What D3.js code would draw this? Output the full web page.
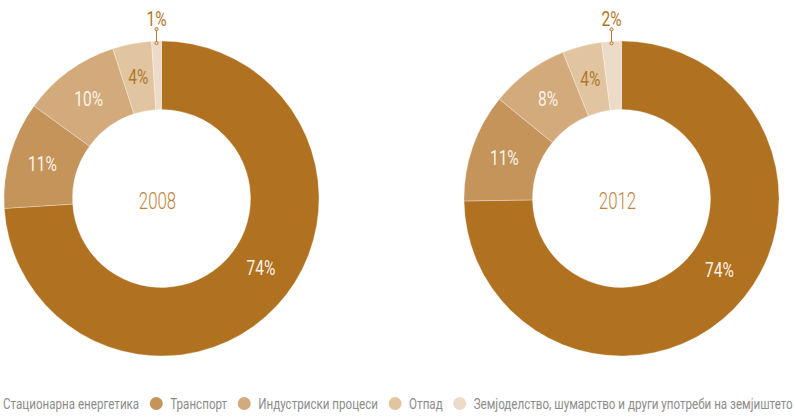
<!DOCTYPE html>
<html><head><meta charset="utf-8">
<script src="https://cdn.jsdelivr.net/npm/d3@7"></script>
<style>
html,body{margin:0;padding:0;background:#fff;}
svg{display:block;}
text{font-family:Roboto,"Noto Sans",sans-serif;}
</style></head>
<body>
<svg id="chart" width="795" height="417"></svg>
<script>
const categories = ["Стационарна енергетика","Транспорт","Индустриски процеси","Отпад","Земјоделство, шумарство и други употреби на земјиштето"];
const years = ["2008","2012"];
const values2008 = [74, 11, 10, 4, 1];
const values2012 = [74, 11, 8, 4, 2];
const colors = ["#b07121","#c4945a","#d2aa7b","#e0c5a0","#ecdcc7"];
const labelColors = ["#faf4ea","#faf4ea","#faf4ea","#b27629","#b27629"];

const svg = d3.select("#chart");
const outerR = 157.5, innerR = 89;
const centers = d3.scalePoint().domain(years).range([161.5, 621.5]);
const cy = 198.5;
const color = d3.scaleOrdinal().domain(categories).range(colors);

const pie = d3.pie().sort(null).value(d => d.v);
const arc = d3.arc().innerRadius(innerR).outerRadius(outerR);
const labelR = 124;
const SX = 0.74;

function sText(parent, x, y, str, size, fill, anchor, sx) {
  const gg = parent.append("g").attr("transform", `translate(${x},${y}) scale(${sx},1)`);
  return gg.append("text").attr("x", 0).attr("y", 0).attr("text-anchor", anchor)
    .attr("font-size", size).attr("fill", fill).text(str);
}

const datasets = [values2008, values2012];
years.forEach((yr, yi) => {
  const data = categories.map((c, i) => ({c, v: datasets[yi][i], i}));
  const g = svg.append("g").attr("transform", `translate(${centers(yr)},${cy})`);
  const arcs = pie(data);
  g.selectAll("path").data(arcs).enter().append("path")
    .attr("d", arc).attr("fill", d => color(d.data.c))
    .attr("stroke", "#fff").attr("stroke-width", 0.6).attr("stroke-opacity", 0.5);
  arcs.forEach((a, k) => {
    const frac = k === 0 ? 0.468 : 0.5;
    const ang = a.startAngle + (a.endAngle - a.startAngle) * frac;
    const txt = a.data.v + "%";
    if (a.data.v <= 2) {
      const x = Math.sin(ang) * outerR, y0 = -Math.cos(ang) * outerR;
      const y1 = y0 - 12;
      g.append("line").attr("x1", x).attr("x2", x).attr("y1", y0 + 2).attr("y2", y1)
        .attr("stroke", "#b27629").attr("stroke-width", 1);
      [y0 + 2, y1].forEach(yy => g.append("circle").attr("cx", x).attr("cy", yy).attr("r", 1.6)
        .attr("fill", "#ecdcc7").attr("stroke", "#b27629").attr("stroke-width", 0.9));
      sText(g, x, y1 - 3.5, txt, 21, labelColors[k], "middle", SX);
    } else {
      const r = k === 0 ? 121 : labelR;
      const x = Math.sin(ang) * r, y = -Math.cos(ang) * r;
      sText(g, x, y + 7.5, txt, 21, labelColors[k], "middle", SX);
    }
  });
  sText(g, -4, 10, yr, 24, "#c0843c", "middle", 0.7).attr("font-weight", 300);
});

// Legend
const leg = svg.append("g").attr("transform", "translate(0,409)");
const gapBefore = 17, gapAfter = 14, left = 3, right = 793;
const texts = categories.map(c => sText(leg, 0, 0, c, 14.5, "#8c8c8c", "start", 1));
const widths = texts.map(t => t.node().getComputedTextLength());
const totalGaps = (categories.length - 1) * (gapBefore + gapAfter);
const ls = (right - left - totalGaps) / d3.sum(widths);
let x = left;
categories.forEach((c, i) => {
  if (i > 0) {
    x += gapBefore;
    leg.append("circle").attr("cx", x).attr("cy", -5.5).attr("r", 6.5).attr("fill", colors[i]);
    x += gapAfter;
  } else {
    leg.append("circle").attr("cx", x - gapAfter).attr("cy", -5.5).attr("r", 6.5).attr("fill", colors[i]);
  }
  d3.select(texts[i].node().parentNode).attr("transform", `translate(${x},0) scale(${ls},1)`);
  x += widths[i] * ls;
});
</script>
</body></html>
